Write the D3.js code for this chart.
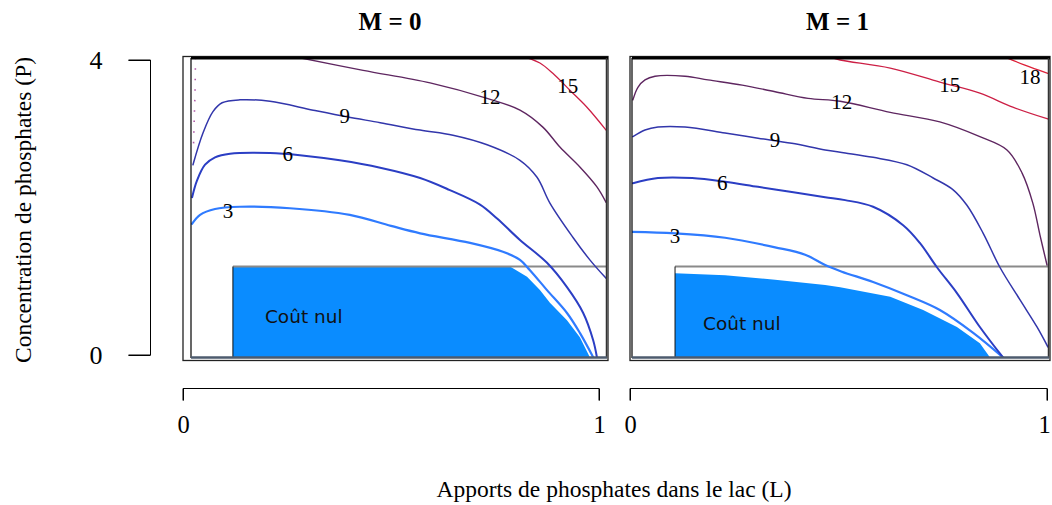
<!DOCTYPE html>
<html><head><meta charset="utf-8">
<script src="https://cdn.jsdelivr.net/npm/d3@7"></script>
<style>body{margin:0;background:#fff}</style>
</head><body>
<svg id="chart" width="1052" height="505"></svg>
<script>
// ---------- data ----------
const panelTitles = ["M = 0", "M = 1"];
const xTicks = [0, 1];
const yTicks = [0, 4];
const xTitle = "Apports de phosphates dans le lac (L)";
const yTitle = "Concentration de phosphates (P)";
const zeroLabel = "Coût nul";
const pThreshold = 1.2;

// M = 0 contours (L, P)
const m0_c3  = [[0.022,1.78],[0.041,1.90],[0.077,1.98],[0.137,2.01],[0.257,1.99],[0.401,1.90],[0.5,1.75],[0.57,1.65],[0.69,1.52],[0.769,1.40],[0.81,1.29],[0.834,1.15],[0.875,0.88],[0.923,0.57],[0.954,0.30],[0.986,-0.03]];
const m0_c6  = [[0.022,2.14],[0.034,2.37],[0.053,2.58],[0.077,2.68],[0.113,2.73],[0.209,2.74],[0.281,2.71],[0.377,2.64],[0.474,2.54],[0.57,2.40],[0.64,2.24],[0.714,2.04],[0.755,1.85],[0.81,1.56],[0.875,1.25],[0.923,0.92],[0.962,0.57],[0.986,0.20],[0.995,-0.03]];
const m0_c9  = [[0.024,2.58],[0.048,3.01],[0.072,3.30],[0.094,3.42],[0.137,3.46],[0.209,3.44],[0.313,3.32],[0.394,3.23],[0.474,3.15],[0.57,3.05],[0.649,2.98],[0.731,2.85],[0.81,2.64],[0.851,2.41],[0.882,2.06],[0.938,1.59],[0.978,1.29],[1.017,1.04]];
const m0_c12 = [[0.281,4.03],[0.433,3.86],[0.594,3.69],[0.731,3.48],[0.81,3.32],[0.865,3.09],[0.906,2.82],[0.954,2.55],[0.995,2.28],[1.017,2.07]];
const m0_c15 = [[0.827,4.03],[0.858,3.96],[0.889,3.82],[0.93,3.59],[0.971,3.36],[1.017,3.05]];
const m0_edge = [[0.030,4.03],[0.029,3.6],[0.027,3.2],[0.025,2.8]];
const m0_zero = [[0.12,1.2],[0.786,1.2],[0.827,1.06],[0.858,0.88],[0.882,0.71],[0.923,0.47],[0.954,0.24],[0.978,-0.03],[0.12,-0.03]];
const m0_labels = [[3,0.108,1.95],[6,0.252,2.73],[9,0.389,3.24],[12,0.738,3.50],[15,0.925,3.65]];
const m0_zeroText = [0.197,0.43];

// M = 1 contours (L, P)
const m1_c3  = [[0.005,1.67],[0.108,1.65],[0.228,1.59],[0.348,1.46],[0.42,1.36],[0.468,1.22],[0.508,1.13],[0.583,0.99],[0.664,0.81],[0.743,0.61],[0.823,0.30],[0.894,-0.03]];
const m1_c6  = [[0.007,2.33],[0.067,2.40],[0.149,2.40],[0.228,2.35],[0.307,2.28],[0.388,2.21],[0.468,2.14],[0.516,2.10],[0.583,2.01],[0.655,1.76],[0.695,1.52],[0.736,1.19],[0.784,0.84],[0.839,0.38],[0.894,-0.03]];
const m1_c9  = [[0.007,2.96],[0.036,3.05],[0.067,3.09],[0.132,3.09],[0.228,3.01],[0.307,2.94],[0.388,2.87],[0.468,2.78],[0.516,2.74],[0.583,2.68],[0.664,2.58],[0.727,2.40],[0.775,2.24],[0.808,2.03],[0.847,1.65],[0.887,1.19],[0.935,0.75],[0.976,0.38],[1.002,0.11]];
const m1_c12 = [[0.007,3.46],[0.019,3.63],[0.036,3.73],[0.06,3.78],[0.132,3.78],[0.187,3.73],[0.269,3.66],[0.348,3.57],[0.427,3.48],[0.504,3.44],[0.624,3.29],[0.743,3.16],[0.839,2.96],[0.904,2.78],[0.94,2.47],[0.966,2.06],[0.983,1.63],[1.0,1.22]];
const m1_c15 = [[0.48,4.04],[0.504,4.0],[0.624,3.89],[0.743,3.70],[0.839,3.55],[0.918,3.36],[1.002,3.20]];
const m1_c18 = [[0.904,4.03],[0.947,3.93],[1.002,3.82]];
const m1_zero = [[0.108,1.2],[0.108,1.11],[0.228,1.08],[0.348,1.02],[0.468,0.95],[0.504,0.92],[0.624,0.79],[0.703,0.61],[0.784,0.38],[0.839,0.16],[0.863,-0.03],[0.108,-0.03]];
const m1_labels = [[3,0.108,1.61],[6,0.221,2.33],[9,0.348,2.92],[12,0.508,3.43],[15,0.767,3.66],[18,0.959,3.77]];
const m1_zeroText = [0.175,0.34];

// ---------- styles / layout ----------
const levelColor = {3:"#2f7bff",6:"#2b3ec4",9:"#3236ab",12:"#5e2660",15:"#cc1f45",18:"#dd2038"};
const levelWidth = {3:2.2,6:2.0,9:1.5,12:1.4,15:1.3,18:1.3};

const panels = [
  {title:panelTitles[0], x0:183, x1:599, frame:[183,608], img:[191,606],
   contours:[[3,m0_c3],[6,m0_c6],[9,m0_c9],[12,m0_c12],[15,m0_c15]],
   edge:m0_edge, zero:m0_zero, labels:m0_labels, zeroText:m0_zeroText, zeroL:0.12, lastDx:0},
  {title:panelTitles[1], x0:630, x1:1047, frame:[630,1050], img:[632,1048],
   contours:[[3,m1_c3],[6,m1_c6],[9,m1_c9],[12,m1_c12],[15,m1_c15],[18,m1_c18]],
   edge:null, zero:m1_zero, labels:m1_labels, zeroText:m1_zeroText, zeroL:0.108, lastDx:-3}
];

const svg = d3.select("#chart");
const y = d3.scaleLinear().domain([0,4]).range([355,60]);
const serif = "'Liberation Serif','Times New Roman',serif";
const sans = "'DejaVu Sans',sans-serif";

panels.forEach((p,i) => {
  const x = d3.scaleLinear().domain([0,1]).range([p.x0,p.x1]);
  const g = svg.append("g");
  const clipId = "clip"+i;
  svg.append("clipPath").attr("id",clipId).append("rect")
    .attr("x",p.img[0]).attr("y",58).attr("width",p.img[1]-p.img[0]).attr("height",300);

  g.append("rect").attr("x",p.frame[0]).attr("y",56.5).attr("width",p.frame[1]-p.frame[0]).attr("height",304)
    .attr("fill","#fff").attr("stroke","#222").attr("stroke-width",1.3);

  const inner = g.append("g").attr("clip-path",`url(#${clipId})`);
  const line = d3.line().x(d=>x(d[0])).y(d=>y(d[1])).curve(d3.curveCatmullRom.alpha(0.5));

  inner.append("path").datum(p.zero)
    .attr("d", d3.line().x(d=>x(d[0])).y(d=>y(d[1])).curve(d3.curveLinear))
    .attr("fill","#0a8cff").attr("stroke","none");
  inner.append("line").attr("x1",x(p.zeroL)).attr("x2",p.img[1]).attr("y1",y(pThreshold)).attr("y2",y(pThreshold))
    .attr("stroke","#8a8a8a").attr("stroke-width",2);
  inner.append("line").attr("x1",x(p.zeroL)).attr("x2",x(p.zeroL)).attr("y1",y(pThreshold)).attr("y2",358)
    .attr("stroke","#111").attr("stroke-width",1);

  p.contours.forEach(([lev,pts]) => {
    inner.append("path").datum(pts).attr("d",line)
      .attr("fill","none").attr("stroke",levelColor[lev]).attr("stroke-width",levelWidth[lev])
      .attr("stroke-linejoin","round").attr("stroke-linecap","round");
  });
  if (p.edge) {
    inner.append("path").datum(p.edge).attr("d",line).attr("fill","none")
      .attr("stroke","#b05aa8").attr("stroke-width",1.6).attr("stroke-dasharray","1.5,9");
  }

  p.labels.forEach(([lev,lx,ly]) => {
    g.append("text").attr("x",x(lx)).attr("y",y(ly)).attr("text-anchor","middle").attr("dominant-baseline","central")
      .attr("font-family",serif).attr("font-size",21).attr("fill","#000").text(lev);
  });
  g.append("text").attr("x",x(p.zeroText[0])).attr("y",y(p.zeroText[1]))
    .attr("font-family",sans).attr("font-size",18.5).attr("fill","#111").text(zeroLabel);

  g.append("line").attr("x1",p.img[0]).attr("x2",p.frame[1]).attr("y1",58).attr("y2",58).attr("stroke","#000").attr("stroke-width",3);
  g.append("line").attr("x1",p.img[0]).attr("x2",p.img[0]).attr("y1",58).attr("y2",358).attr("stroke","#000").attr("stroke-width",1.2);
  g.append("line").attr("x1",p.img[1]+0.5).attr("x2",p.img[1]+0.5).attr("y1",58).attr("y2",358).attr("stroke","#333").attr("stroke-width",1.5);
  g.append("line").attr("x1",p.img[0]).attr("x2",p.img[1]+1).attr("y1",357.5).attr("y2",357.5).attr("stroke","#4d5b6e").attr("stroke-width",2.5);

  g.append("text").attr("x",x(0.5)-1).attr("y",30).attr("text-anchor","middle")
    .attr("font-family",serif).attr("font-weight","bold").attr("font-size",25).text(p.title);

  const xa = svg.append("g").attr("transform","translate(0,388.5)")
    .call(d3.axisBottom(x).tickValues(xTicks).tickFormat(d3.format("d")).tickSize(12).tickSizeOuter(0).tickPadding(15));
  xa.selectAll("path,line").attr("stroke","#000").attr("stroke-width",1);
  xa.selectAll("text").attr("font-family",serif).attr("font-size",24.5).attr("fill","#000");
  xa.selectAll(".tick text").filter(d => d === 1).attr("dx", p.lastDx);
  xa.select(".domain").attr("d",`M${x(0)},12V0H${x(1)}V12`);
});

const ya = svg.append("g").attr("transform","translate(150.5,0)")
  .call(d3.axisLeft(y).tickValues(yTicks).tickFormat(d3.format("d")).tickSize(22).tickSizeOuter(0).tickPadding(26));
ya.selectAll("path,line").attr("stroke","#000").attr("stroke-width",1);
ya.selectAll("text").attr("font-family",serif).attr("font-size",26).attr("fill","#000");
ya.select(".domain").attr("d",`M-22,${y(4)}H0V${y(0)}H-22`);

svg.append("text").attr("transform","translate(31,210) rotate(-90)").attr("text-anchor","middle")
  .attr("font-family",serif).attr("font-size",23.5).text(yTitle);
svg.append("text").attr("x",614).attr("y",497).attr("text-anchor","middle")
  .attr("font-family",serif).attr("font-size",23.5).text(xTitle);
</script>
</body></html>
